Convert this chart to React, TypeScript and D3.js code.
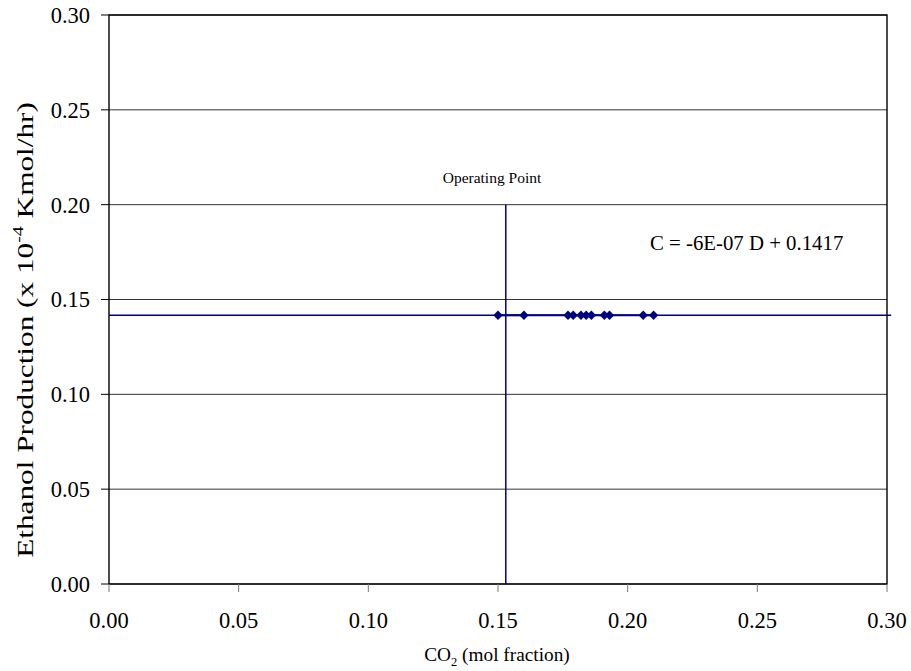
import React from "react";
import * as d3 from "d3";

// CO2 mole fraction of each run and the ethanol production measured
const co2Fraction = [0.150, 0.160, 0.177, 0.179, 0.182, 0.184, 0.186, 0.191, 0.193, 0.206, 0.210];
const ethanolRate = [0.1417, 0.1417, 0.1417, 0.1417, 0.1417, 0.1417, 0.1417, 0.1417, 0.1417, 0.1417, 0.1417];

// linear trendline C = slope * D + intercept
const trendSlope = -6e-7;
const trendIntercept = 0.1417;
const trendExtent = [0, 0.3016];

// operating point marker
const operatingX = 0.153;
const operatingTop = 0.2;

const xTicks = [0, 0.05, 0.1, 0.15, 0.2, 0.25, 0.3];
const yTicks = [0, 0.05, 0.1, 0.15, 0.2, 0.25, 0.3];

const W = 911;
const H = 671;
const left = 109;
const right = 887;
const top = 15;
const bottom = 584;
const navy = "#000080";
const font = "'Liberation Serif', 'Times New Roman', serif";

export default function App() {
  const x = d3.scaleLinear().domain([0, 0.3]).range([left, right]);
  const y = d3.scaleLinear().domain([0, 0.3]).range([bottom, top]);
  const fmt = d3.format(".2f");
  const diamond = d3.symbol().type(d3.symbolSquare).size(44)() as string;
  const trend = d3
    .line<number>()
    .x((d) => x(d))
    .y((d) => y(trendSlope * d + trendIntercept));

  return (
    <svg
      width={W}
      height={H}
      style={{ position: "absolute", left: 0, top: 0, background: "#fff" }}
      fontFamily={font}
    >
      {/* horizontal gridlines */}
      {yTicks.map((t) => (
        <line key={"g" + t} x1={left} x2={right} y1={y(t)} y2={y(t)} stroke="#333" strokeWidth={1} />
      ))}
      {/* plot frame */}
      <rect x={left} y={top} width={right - left} height={bottom - top} fill="none" stroke="#000" strokeWidth={1.4} />
      {/* y ticks and labels */}
      {yTicks.map((t) => (
        <g key={"y" + t}>
          <line x1={left - 8} x2={left} y1={y(t)} y2={y(t)} stroke="#000" />
          <text x={90} y={y(t)} dy="0.35em" textAnchor="end" fontSize={22.5}>
            {fmt(t)}
          </text>
        </g>
      ))}
      {/* x ticks and labels */}
      {xTicks.map((t) => (
        <g key={"x" + t}>
          <line x1={x(t)} x2={x(t)} y1={bottom} y2={bottom + 8} stroke="#777" />
          <text x={x(t)} y={628} textAnchor="middle" fontSize={22.5}>
            {fmt(t)}
          </text>
        </g>
      ))}
      {/* trendline */}
      <path d={trend(trendExtent) as string} fill="none" stroke={navy} strokeWidth={1.3} />
      {/* operating point line */}
      <line
        x1={x(operatingX)}
        x2={x(operatingX)}
        y1={y(operatingTop)}
        y2={y(0)}
        stroke={navy}
        strokeWidth={1.5}
      />
      {/* data points */}
      {co2Fraction.map((c, i) => (
        <g key={"p" + i}>
          <line
            x1={x(c)}
            x2={x(co2Fraction[i + 1] ?? c)}
            y1={y(ethanolRate[i])}
            y2={y(ethanolRate[i + 1] ?? ethanolRate[i])}
            stroke={navy}
            strokeWidth={2.2}
          />
          <path d={diamond} transform={`translate(${x(c)},${y(ethanolRate[i])}) rotate(45)`} fill={navy} />
        </g>
      ))}
      {/* annotations */}
      <text x={492} y={183} textAnchor="middle" fontSize={15.5}>
        Operating Point
      </text>
      <text x={650} y={250} fontSize={20.8}>
        C = -6E-07 D + 0.1417
      </text>
      {/* axis titles */}
      <text x={497} y={661} textAnchor="middle" fontSize={19.3}>
        CO<tspan fontSize={12.5} dy={5}>2</tspan>
        <tspan dy={-5}> (mol fraction)</tspan>
      </text>
      <text transform="translate(33,330) rotate(-90) scale(1.33,1)" textAnchor="middle" fontSize={23.5}>
        Ethanol Production (x 10<tspan fontSize={15} dy={-10}>-4</tspan>
        <tspan dy={10}> Kmol/hr)</tspan>
      </text>
    </svg>
  );
}
